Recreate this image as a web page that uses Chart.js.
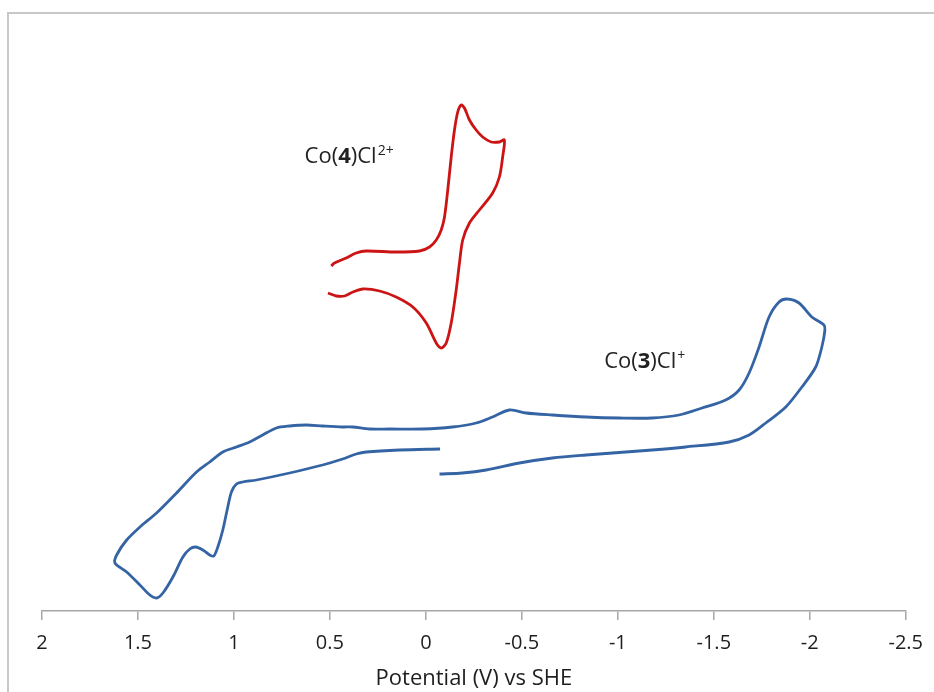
<!DOCTYPE html>
<html>
<head>
<meta charset="utf-8">
<script src="https://cdn.jsdelivr.net/npm/chart.js@4.4.1/dist/chart.umd.min.js"></script>
<style>
  html, body { margin: 0; padding: 0; background: #fff; overflow: hidden; }
  #frame {
    position: absolute; left: 7px; top: 12px;
    width: 1000px; height: 800px;
    border: 2px solid #c8c8c8;
  }
  #wrap { position: absolute; left: 0; top: 0; width: 934px; height: 692px; }
</style>
</head>
<body>
<div id="frame"></div>
<div id="wrap"><canvas id="cvChart" width="934" height="692"></canvas></div>
<script>
// Potential (V vs SHE) and current (arbitrary units)
const co3Potential = [
  -0.071, -0.19, -0.314, -0.487, -0.659, -0.834, -1.179, -1.354, -1.58, -1.684,
  -1.771, -1.875, -1.959, -2.031, -2.063, -2.079, -2.074, -2.011, -1.944, -1.881,
  -1.84, -1.788, -1.736, -1.684, -1.632, -1.562, -1.439, -1.319, -1.179, -1.007,
  -0.834, -0.659, -0.522, -0.435, -0.347, -0.262, -0.138, 0.018, 0.189, 0.293,
  0.382, 0.434, 0.538, 0.623, 0.71, 0.779, 0.85, 0.918, 0.987, 1.058,
  1.126, 1.195, 1.299, 1.403, 1.49, 1.559, 1.611, 1.62, 1.559, 1.49,
  1.438, 1.403, 1.37, 1.318, 1.266, 1.23, 1.199, 1.162, 1.126, 1.105,
  1.084, 1.058, 1.032, 1.013, 0.987, 0.954, 0.883, 0.71, 0.538, 0.434,
  0.363, 0.311, 0.137, -0.074
];
const co3Current = [
  13.7, 13.8, 14.1, 14.8, 15.3, 15.6, 16.1, 16.4, 16.9, 17.6,
  18.8, 20.4, 22.4, 24.4, 26.4, 28.1, 28.6, 29.4, 30.8, 31.2,
  30.9, 29.4, 26.4, 23.8, 22.1, 21.1, 20.3, 19.6, 19.3, 19.3,
  19.4, 19.6, 19.8, 20.1, 19.4, 18.8, 18.4, 18.2, 18.2, 18.2,
  18.4, 18.4, 18.5, 18.6, 18.5, 18.3, 17.6, 16.9, 16.4, 15.9,
  14.9, 13.9, 11.8, 9.8, 8.4, 7.1, 5.6, 4.8, 3.9, 2.6,
  1.6, 1.3, 1.8, 3.4, 5.4, 6.2, 6.4, 6.1, 5.6, 5.5,
  6.4, 8.1, 10.4, 11.9, 12.7, 12.9, 13.1, 13.8, 14.6, 15.2,
  15.7, 15.9, 16.1, 16.2
];

const co4Potential = [
  0.493, 0.476, 0.415, 0.363, 0.311, 0.155, 0.033, -0.019, -0.054, -0.08,
  -0.097, -0.114, -0.132, -0.149, -0.166, -0.184, -0.201, -0.227, -0.262, -0.296,
  -0.34, -0.383, -0.409, -0.4, -0.383, -0.348, -0.279, -0.227, -0.192, -0.175,
  -0.158, -0.132, -0.106, -0.08, -0.054, -0.002, 0.068, 0.155, 0.241, 0.328,
  0.38, 0.424, 0.467, 0.51
];
const co4Current = [
  34.5, 34.8, 35.3, 35.8, 36.0, 35.9, 36.0, 36.4, 37.1, 38.1,
  39.4, 42.1, 45.4, 48.1, 49.9, 50.6, 50.3, 49.1, 48.1, 47.4,
  46.9, 46.9, 47.1, 45.4, 43.4, 41.8, 40.1, 38.8, 37.1, 34.8,
  32.1, 28.8, 26.8, 26.3, 26.8, 28.8, 30.4, 31.4, 32.0, 32.2,
  31.9, 31.5, 31.5, 31.8
];

const xTicks = [2, 1.5, 1, 0.5, 0, -0.5, -1, -1.5, -2, -2.5];

// label anchors (potential, current) and text pieces
const curveLabels = [
  { x: 0.632, y: 44.8, parts: [['Co(', ''], ['4', 'bold'], [')Cl', ''], ['2+', 'sup']] },
  { x: -0.929, y: 24.3, parts: [['Co(', ''], ['3', 'bold'], [')Cl', ''], ['+', 'sup']] }
];

function toPoints(xs, ys) {
  return xs.map((x, i) => ({ x: x, y: ys[i] }));
}

const labelPlugin = {
  id: 'curveLabels',
  afterDatasetsDraw(chart) {
    const ctx = chart.ctx;
    const sx = chart.scales.x, sy = chart.scales.y;
    ctx.save();
    ctx.fillStyle = '#222';
    ctx.textBaseline = 'alphabetic';
    curveLabels.forEach(lab => {
      let px = sx.getPixelForValue(lab.x);
      const py = sy.getPixelForValue(lab.y);
      lab.parts.forEach(p => {
        let dy = 0;
        if (p[1] === 'bold') ctx.font = 'bold 22px "Open Sans"';
        else if (p[1] === 'sup') { ctx.font = '14px "Open Sans"'; dy = -8; }
        else ctx.font = '22px "Open Sans"';
        ctx.fillText(p[0], px, py + dy);
        px += ctx.measureText(p[0]).width + (p[0] === ')Cl' ? 1 : 0);
      });
    });
    ctx.restore();
  }
};

const ctx = document.getElementById('cvChart').getContext('2d');
const cvChart = new Chart(ctx, {
  type: 'scatter',
  data: {
    datasets: [
      {
        label: 'Co(3)Cl+',
        data: toPoints(co3Potential, co3Current),
        showLine: true,
        borderColor: '#3464a4',
        borderWidth: 2.8,
        pointRadius: 0,
        tension: 0.3
      },
      {
        label: 'Co(4)Cl2+',
        data: toPoints(co4Potential, co4Current),
        showLine: true,
        borderColor: '#cc1414',
        borderWidth: 2.8,
        pointRadius: 0,
        tension: 0.3
      }
    ]
  },
  options: {
    responsive: false,
    animation: false,
    layout: { padding: { left: 42, right: 27, top: 20, bottom: 0 } },
    plugins: {
      legend: { display: false },
      tooltip: { enabled: false }
    },
    scales: {
      x: {
        type: 'linear',
        reverse: true,
        min: -2.5,
        max: 2,
        afterBuildTicks: function(axis) {
          axis.ticks = xTicks.map(v => ({ value: v }));
        },
        afterFit: function(axis) { axis.height = 81; },
        border: { display: true, color: '#a6a6a6', width: 1.5 },
        grid: { drawOnChartArea: false, drawTicks: true, tickLength: 9, color: '#a6a6a6', lineWidth: 1.5 },
        ticks: {
          color: '#1e1e1e',
          padding: 11,
          maxRotation: 0,
          font: { family: 'Open Sans', size: 20 },
          callback: function(value) { return String(value); }
        },
        title: {
          display: true,
          text: 'Potential (V) vs SHE',
          color: '#1e1e1e',
          padding: { top: 1, bottom: 0 },
          font: { family: 'Open Sans', size: 22 }
        }
      },
      y: {
        display: false,
        min: 0,
        max: 59.1
      }
    }
  },
  plugins: [labelPlugin]
});
</script>
</body>
</html>
